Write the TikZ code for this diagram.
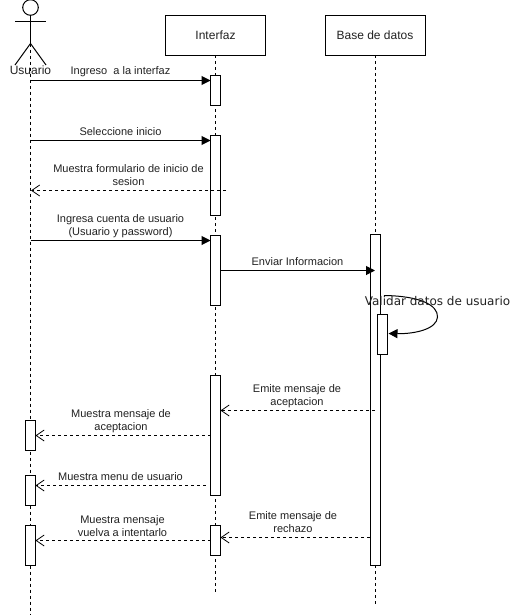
\documentclass[tikz,border=0pt]{standalone}
\usepackage{fontspec}
\setmainfont{Liberation Sans}
\newfontfamily\bigfont{DejaVu Sans}
\usetikzlibrary{arrows.meta}
\definecolor{txt}{HTML}{222222}
\tikzset{
  x=1pt,y=-1pt,
  every path/.style={line width=1pt},
  box/.style={draw,fill=white,minimum width=100pt,minimum height=40pt,inner sep=0pt,outer sep=0pt,text=txt,font=\fontsize{12}{14}\selectfont},
  act/.style={draw,fill=white,minimum width=10pt,inner sep=0pt,outer sep=0pt},
  life/.style={dash pattern=on 3pt off 3pt},
  msg/.style={-{Triangle[length=9pt,width=9pt]}},
  ret/.style={dash pattern=on 3pt off 3pt,-{Straight Barb[length=8pt,width=11pt,line width=.8pt]}},
  lab/.style={align=center,text=txt,inner sep=0pt,font=\fontsize{11}{13}\selectfont},
}
\begin{document}
\begin{tikzpicture}
\useasboundingbox (0,0) rectangle (510,616);
\fill[white] (0,0) rectangle (510,616);
% actor
\coordinate (head) at (30.5,7.5);
\coordinate (neck) at (30.5,15.5);
\coordinate (hip) at (30.5,43.5);
\coordinate (armL) at (15,21.5);
\coordinate (armR) at (46,21.5);
\coordinate (legL) at (15,65);
\coordinate (legR) at (46,65);
\coordinate (uEnd) at (30.5,615);
\coordinate (iEnd) at (215.5,593);
\coordinate (bEnd) at (375,605);
% boxes
\node[box] (iface) at (215.5,35) {Interfaz};
\node[box] (db) at (375,35) {Base de datos};
% lifelines
\draw[life] (hip) -- (uEnd);
\draw[life] (iface.south) -- (iEnd);
\draw[life] (db.south) -- (bEnd);
% actor figure
\draw (head) circle (7.8);
\draw (neck) -- (hip);
\draw (armL) -- (armR);
\draw (legL) -- (hip) -- (legR);
\node[lab,font=\fontsize{12}{14}\selectfont] (ulabel) at (30.5,70) {Usuario};
% activations
\node[act,minimum height=30pt] (a1) at (215.5,90) {};
\node[act,minimum height=80pt] (a2) at (215.5,175.5) {};
\node[act,minimum height=70pt] (a3) at (215.5,270.5) {};
\node[act,minimum height=120pt] (a4) at (215.5,435.5) {};
\node[act,minimum height=30pt] (a5) at (215.5,540.5) {};
\node[act,minimum height=30pt] (u1) at (30.5,435.5) {};
\node[act,minimum height=30pt] (u2) at (30.5,490.5) {};
\node[act,minimum height=40pt] (u3) at (30.5,545.5) {};
\node[act,minimum height=331pt] (b1) at (375,399.5) {};
\node[act,minimum height=40pt] (b2) at (382.5,334.5) {};
% message anchors
\coordinate (m1) at (30.5,80.5);
\coordinate (m2) at (30.5,140.5);
\coordinate (m3) at (226,190.5);
\coordinate (m3e) at (31,190.5);
\coordinate (m4) at (30.5,240.5);
\coordinate (m5) at (220.5,270.5);
\coordinate (m5e) at (375,270.5);
\coordinate (m6) at (375,410.5);
\coordinate (m7) at (210.5,435.5);
\coordinate (m8) at (205.5,485.5);
\coordinate (m9) at (370,537.5);
\coordinate (m10) at (210.5,540.5);
\coordinate (s1) at (384,295.5);
\coordinate (s2) at (388.5,333.5);
% messages
\draw[msg] (m1) -- (a1.west |- m1);
\node[lab] (t1) at (120.5,71.5) {Ingreso\ \ a la interfaz};
\draw[msg] (m2) -- (a2.west |- m2);
\node[lab] (t2) at (120.5,131.5) {Seleccione inicio};
\draw[ret] (m3) -- (m3e);
\node[lab] (t3) at (128.5,175) {Muestra formulario de inicio de\\sesion};
\draw[msg] (m4) -- (a3.west |- m4);
\node[lab] (t4) at (120.5,226) {Ingresa cuenta de usuario\\(Usuario y password)};
\draw[msg] (m5) -- (m5e);
\node[lab] (t5) at (297.5,261.5) {Enviar Informacion};
\draw[-{Triangle[length=9pt,width=9pt]}] (s1) .. controls (420,296) and (438,305) .. (437.5,317) .. controls (437,329) and (415,334) .. (s2);
\node[lab,text=txt,font=\bigfont\fontsize{12}{14}\selectfont] (t6) at (437.5,301.5) {Validar datos de usuario};
\draw[ret] (m6) -- (a4.east |- m6);
\node[lab] (t7) at (297,396) {Emite mensaje de\\aceptacion};
\draw[ret] (m7) -- (u1.east |- m7);
\node[lab] (t8) at (121,421) {Muestra mensaje de\\aceptacion};
\draw[ret] (m8) -- (u2.east |- m8);
\node[lab] (t9) at (120.5,476.5) {Muestra menu de usuario};
\draw[ret] (m9) -- (a5.east |- m9);
\node[lab] (t10) at (293,522.5) {Emite mensaje de\\rechazo};
\draw[ret] (m10) -- (u3.east |- m10);
\node[lab] (t11) at (122.5,526) {Muestra mensaje\\vuelva a intentarlo};
\end{tikzpicture}
\end{document}
